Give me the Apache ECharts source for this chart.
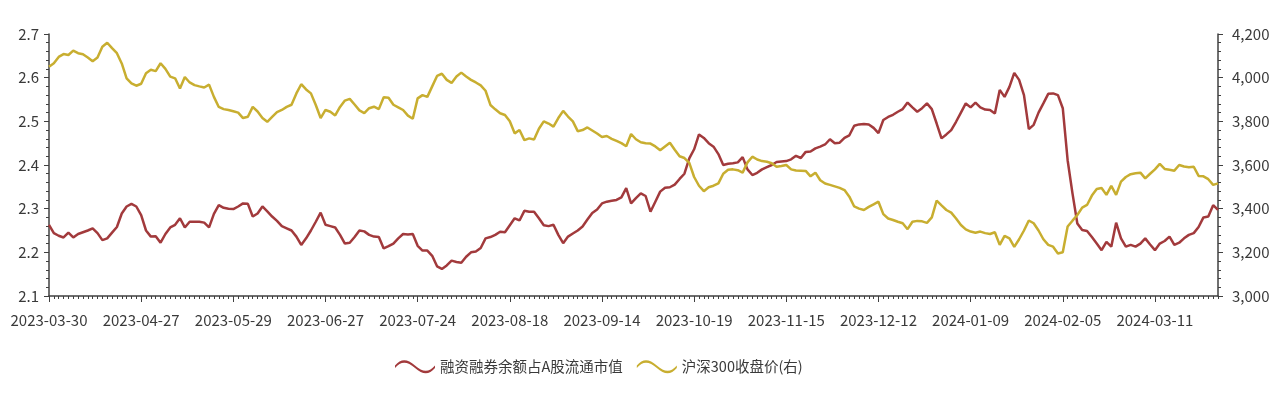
<!DOCTYPE html>
<html>
<head>
<meta charset="utf-8">
<style>
html,body{margin:0;padding:0;background:#fff;}
#chart{width:1284px;height:393px;}
</style>
<script src="https://cdn.jsdelivr.net/npm/echarts@6/dist/echarts.min.js"></script>
</head>
<body>
<div id="chart"></div>
<script>
// Trading calendar (A-share), 2023-03-30 .. 2024-03-28
const startDate = '2023-03-30';
const holidays = ['2023-04-05','2023-05-01','2023-05-02','2023-05-03','2023-06-22','2023-06-23',
  '2023-09-29','2023-10-02','2023-10-03','2023-10-04','2023-10-05','2023-10-06','2024-01-01',
  '2024-02-09','2024-02-12','2024-02-13','2024-02-14','2024-02-15','2024-02-16'];
const labelEvery = 19;

const seriesNames = ['融资融券余额占A股流通市值', '沪深300收盘价(右)'];

// 融资融券余额占A股流通市值 (%), left axis
const marginRatio = [
2.263,2.244,2.238,2.234,2.245,2.234,2.242,2.246,2.250,2.255,
2.244,2.228,2.232,2.245,2.258,2.289,2.305,2.311,2.305,2.285,
2.250,2.236,2.237,2.222,2.242,2.257,2.263,2.278,2.257,2.270,
2.270,2.270,2.268,2.257,2.288,2.308,2.302,2.300,2.299,2.305,
2.312,2.311,2.282,2.289,2.305,2.294,2.282,2.272,2.260,2.255,
2.250,2.236,2.217,2.232,2.250,2.270,2.291,2.263,2.260,2.257,
2.240,2.220,2.222,2.235,2.250,2.248,2.240,2.236,2.235,2.209,
2.214,2.220,2.232,2.242,2.241,2.242,2.215,2.204,2.204,2.192,
2.168,2.162,2.170,2.181,2.178,2.176,2.190,2.200,2.202,2.210,
2.232,2.235,2.240,2.247,2.246,2.262,2.278,2.273,2.295,2.293,
2.293,2.278,2.262,2.260,2.263,2.240,2.221,2.236,2.243,2.250,
2.259,2.275,2.290,2.298,2.312,2.316,2.318,2.320,2.326,2.347,
2.312,2.324,2.335,2.329,2.293,2.316,2.339,2.348,2.349,2.355,
2.368,2.380,2.415,2.436,2.470,2.462,2.450,2.442,2.425,2.400,
2.403,2.404,2.406,2.418,2.390,2.377,2.382,2.390,2.395,2.400,
2.407,2.408,2.409,2.413,2.421,2.416,2.430,2.431,2.438,2.442,
2.447,2.459,2.450,2.451,2.462,2.468,2.490,2.493,2.494,2.493,
2.485,2.473,2.503,2.510,2.515,2.522,2.528,2.543,2.532,2.522,
2.530,2.541,2.528,2.495,2.461,2.470,2.480,2.499,2.520,2.541,
2.532,2.543,2.532,2.527,2.526,2.518,2.572,2.556,2.579,2.611,
2.595,2.560,2.482,2.492,2.520,2.541,2.563,2.564,2.560,2.530,
2.411,2.335,2.266,2.251,2.249,2.235,2.220,2.205,2.224,2.213,
2.268,2.232,2.213,2.217,2.213,2.220,2.232,2.218,2.205,2.220,
2.226,2.236,2.217,2.222,2.232,2.240,2.244,2.258,2.280,2.282,
2.308,2.297
];

// 沪深300收盘价, right axis
const csi300 = [
4050,4066,4095,4108,4104,4124,4112,4107,4092,4075,
4092,4142,4160,4135,4112,4065,3997,3974,3963,3972,
4020,4036,4030,4066,4040,4005,3997,3950,4003,3978,
3966,3960,3955,3968,3912,3866,3856,3852,3846,3840,
3815,3821,3866,3845,3815,3798,3820,3842,3852,3866,
3876,3928,3970,3946,3928,3875,3815,3852,3844,3827,
3866,3895,3903,3877,3850,3838,3860,3867,3856,3910,
3908,3876,3864,3852,3826,3812,3905,3920,3912,3960,
4008,4018,3990,3976,4005,4023,4005,3990,3978,3965,
3940,3875,3855,3837,3829,3800,3745,3760,3714,3722,
3717,3766,3800,3790,3776,3815,3848,3822,3800,3755,
3760,3772,3758,3744,3728,3733,3720,3710,3700,3686,
3742,3718,3704,3700,3698,3685,3668,3685,3702,3670,
3640,3632,3610,3545,3505,3480,3498,3505,3516,3560,
3578,3580,3576,3565,3612,3638,3625,3618,3615,3608,
3592,3595,3600,3580,3575,3574,3573,3548,3565,3530,
3515,3509,3502,3495,3485,3455,3410,3400,3394,3408,
3420,3432,3375,3355,3348,3340,3333,3306,3340,3344,
3342,3335,3360,3437,3415,3394,3382,3355,3325,3305,
3295,3290,3295,3288,3284,3292,3234,3275,3264,3225,
3260,3300,3346,3333,3300,3260,3234,3226,3195,3200,
3318,3345,3371,3405,3417,3460,3490,3495,3463,3504,
3463,3524,3545,3558,3562,3565,3539,3560,3580,3605,
3582,3578,3574,3600,3593,3590,3592,3550,3548,3535,
3509,3516
];

function pad(n){return n<10?'0'+n:''+n;}
function buildDates(count){
  const out=[]; const d=new Date(startDate+'T00:00:00Z');
  while(out.length<count){
    const wd=d.getUTCDay();
    const s=d.getUTCFullYear()+'-'+pad(d.getUTCMonth()+1)+'-'+pad(d.getUTCDate());
    if(wd!==0 && wd!==6 && holidays.indexOf(s)<0) out.push(s);
    d.setUTCDate(d.getUTCDate()+1);
  }
  return out;
}
const dates = buildDates(csi300.length);

const RED='#A23A3C', YEL='#C8AE30', AX='#404040', TXT='#3a3a3a';
const FONT='"Noto Sans CJK SC","Noto Sans",sans-serif';
const wave='path://M0,7 C6,0 12,0 20,7 C28,14 34,14 40,7 L40,9.5 C34,16.5 28,16.5 20,9.5 C12,2.5 6,2.5 0,9.5 Z';
const onLabel=(i)=> i % labelEvery === 0;

const chart=echarts.init(document.getElementById('chart'),null,{renderer:'canvas'});
chart.setOption({
  animation:false,
  backgroundColor:'#fff',
  textStyle:{fontFamily:FONT},
  grid:{left:49,right:66,top:34,bottom:97,containLabel:false},
  legend:{
    bottom:14,left:390,itemGap:14,itemWidth:40,itemHeight:15,
    textStyle:{fontSize:14.5,color:TXT,fontFamily:FONT},
    data:[{name:seriesNames[0],icon:wave},{name:seriesNames[1],icon:wave}]
  },
  xAxis:[{
    type:'category',data:dates,boundaryGap:false,
    axisLine:{lineStyle:{color:AX,width:1.5}},
    axisTick:{show:true,interval:0,length:3,inside:false,lineStyle:{color:AX}},
    axisLabel:{interval:onLabel,color:TXT,fontSize:15,margin:17,hideOverlap:false,fontFamily:FONT},
    splitLine:{show:false}
  },{
    type:'category',data:dates,boundaryGap:false,position:'bottom',
    axisLine:{show:false},
    axisTick:{show:true,interval:onLabel,length:6,lineStyle:{color:AX}},
    axisLabel:{show:false},splitLine:{show:false}
  }],
  yAxis:[{
    type:'value',min:2.1,max:2.7,interval:0.1,position:'left',
    axisLine:{show:true,lineStyle:{color:AX,width:1.5}},
    axisTick:{show:true,length:5,lineStyle:{color:AX}},
    minorTick:{show:true,splitNumber:5,length:3,lineStyle:{color:AX}},
    axisLabel:{color:TXT,fontSize:15,margin:10,formatter:v=>v.toFixed(1),fontFamily:FONT},
    splitLine:{show:false}
  },{
    type:'value',min:3000,max:4200,interval:200,position:'right',
    axisLine:{show:true,lineStyle:{color:AX,width:1.5}},
    axisTick:{show:true,length:5,lineStyle:{color:AX}},
    minorTick:{show:true,splitNumber:5,length:3,lineStyle:{color:AX}},
    axisLabel:{color:TXT,fontSize:15,margin:14,formatter:v=>v.toLocaleString('en-US'),fontFamily:FONT},
    splitLine:{show:false}
  }],
  series:[{
    name:seriesNames[0],type:'line',data:marginRatio,yAxisIndex:0,xAxisIndex:0,
    showSymbol:false,symbol:'none',lineStyle:{color:RED,width:2.5},itemStyle:{color:RED}
  },{
    name:seriesNames[1],type:'line',data:csi300,yAxisIndex:1,xAxisIndex:0,
    showSymbol:false,symbol:'none',lineStyle:{color:YEL,width:2.5},itemStyle:{color:YEL}
  }]
});
</script>
</body>
</html>
